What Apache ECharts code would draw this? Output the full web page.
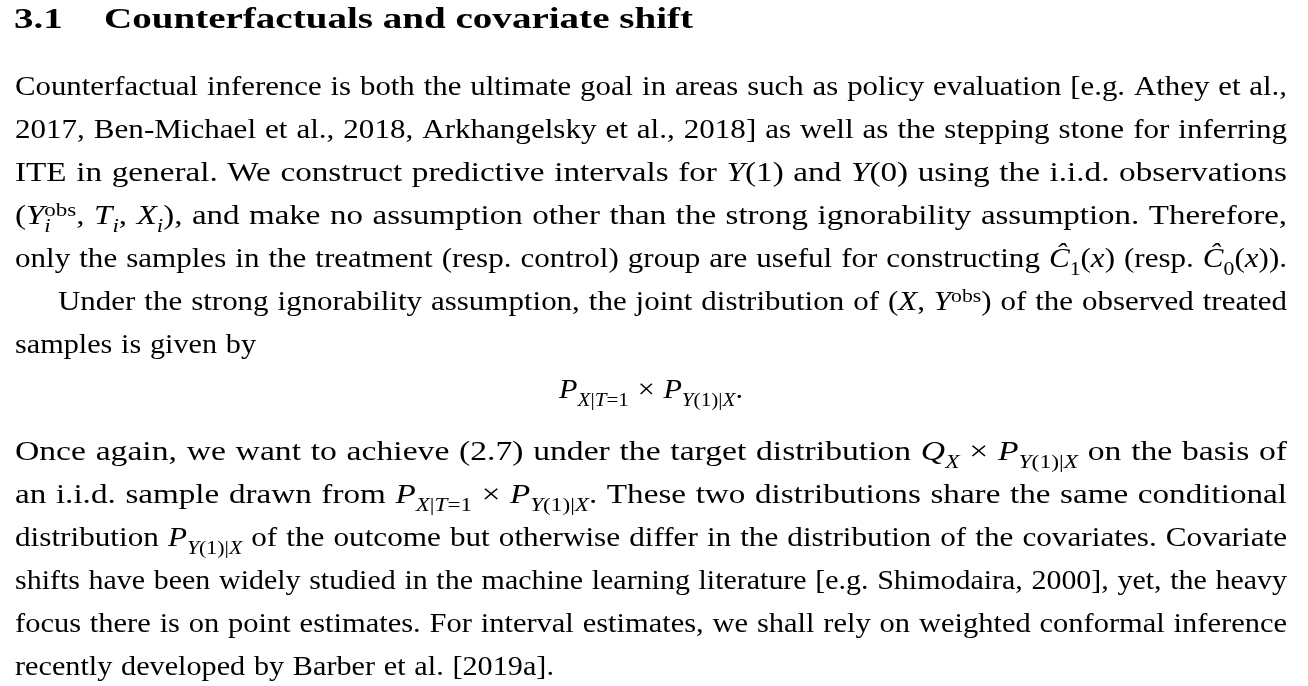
<html lang="en">
<head>
<meta charset="UTF-8">
<title>text</title>
<script src="https://cdn.jsdelivr.net/npm/echarts@6/dist/echarts.min.js"></script>
<style>html,body{margin:0;background:#fff}</style>
</head>
<body>
<div id="main" style="width:1308px;height:686px;"></div>
<script>
// $..$ = italic, _{..} = subscript, ^{..} = superscript
var headingNum = '3.1';
var headingText = 'Counterfactuals and covariate shift';
var lines = [
  'Counterfactual inference is both the ultimate goal in areas such as policy evaluation [e.g. Athey et al.,',
  '2017, Ben-Michael et al., 2018, Arkhangelsky et al., 2018] as well as the stepping stone for inferring',
  'ITE in general.  We construct predictive intervals for $Y$(1) and $Y$(0) using the i.i.d. observations',
  '($Y$^{obs}_{$i$}, $T$_{$i$}, $X$_{$i$}), and make no assumption other than the strong ignorability assumption.  Therefore,',
  'only the samples in the treatment (resp. control) group are useful for constructing $Ĉ$_{1}($x$) (resp. $Ĉ$_{0}($x$)).',
  'Under the strong ignorability assumption, the joint distribution of ($X$, $Y$^{obs}) of the observed treated',
  'samples is given by',
  '$P$_{$X$|$T$=1} × $P$_{$Y$(1)|$X$}.',
  'Once again, we want to achieve (2.7) under the target distribution $Q$_{$X$} × $P$_{$Y$(1)|$X$} on the basis of',
  'an i.i.d. sample drawn from $P$_{$X$|$T$=1} × $P$_{$Y$(1)|$X$}.  These two distributions share the same conditional',
  'distribution $P$_{$Y$(1)|$X$} of the outcome but otherwise differ in the distribution of the covariates. Covariate',
  'shifts have been widely studied in the machine learning literature [e.g. Shimodaira, 2000], yet, the heavy',
  'focus there is on point estimates. For interval estimates, we shall rely on weighted conformal inference',
  'recently developed by Barber et al. [2019a].'
];
var lineMode = ['j','j','j','j','j','i','l','c','j','j','j','j','j','l'];
var baselines = [96,139,182,225,268,311,354,399,461,504,547,590,633,676];

var F = 26.5, LEFT = 15, RIGHT = 1287, FAM = "'Liberation Serif', serif";
var ctx = document.createElement('canvas').getContext('2d');
function fontOf(s) { return (s.italic ? 'italic ' : '') + (s.pos ? F * 0.7 : F) + 'px ' + FAM; }
function measure(s) { ctx.font = fontOf(s); return ctx.measureText(s.text).width; }

function parse(line) {
  var segs = [], italic = false, pos = 0, buf = '';
  function flush() { if (buf) segs.push({text: buf, italic: italic, pos: pos}); buf = ''; }
  for (var i = 0; i < line.length; i++) {
    var c = line[i];
    if (c === '$') { flush(); italic = !italic; }
    else if ((c === '_' || c === '^') && line[i + 1] === '{') { flush(); pos = c === '_' ? 1 : -1; i++; }
    else if (c === '}' && pos) { flush(); pos = 0; }
    else buf += c;
  }
  flush();
  var words = [[]];
  segs.forEach(function (s) {
    var parts = s.text.split(/ +/);
    parts.forEach(function (p, k) {
      if (k > 0) words.push([]);
      if (p) words[words.length - 1].push({text: p, italic: s.italic, pos: s.pos});
    });
  });
  return words.filter(function (w) { return w.length; });
}

function wordWidth(w) {
  var x = 0, supStart = null, supEnd = 0;
  w.forEach(function (s) {
    if (s.pos === 1 && supStart !== null) { s.dx = supStart; x = supStart; }
    else s.dx = x;
    var wd = measure(s);
    if (s.pos === -1) { supStart = x; }
    x += wd;
    if (s.pos === -1) supEnd = x; else if (s.pos === 1 && supStart !== null) { x = Math.max(x, supEnd); supStart = null; }
    else supStart = null;
  });
  return x;
}

var elements = [];
function addSeg(s, x, base, sc) {
  var shift = s.pos === 1 ? F * 0.22 : s.pos === -1 ? -F * 0.38 : 0;
  elements.push({type: 'text', x: x, y: base + shift, scaleX: sc,
    style: {text: s.text, font: fontOf(s), fill: '#000', verticalAlign: 'bottom', align: 'left'}});
}

// heading
var HF = 'bold 30px ' + FAM;
ctx.font = HF;
var hs = 589 / ctx.measureText(headingText).width;
elements.push({type: 'text', x: 14, y: 35, scaleX: hs, style: {text: headingNum, font: HF, fill: '#000', verticalAlign: 'bottom'}});
elements.push({type: 'text', x: 104, y: 35, scaleX: hs, style: {text: headingText, font: HF, fill: '#000', verticalAlign: 'bottom'}});

var space = F * 0.33;
var SX = 1.14;
lines.forEach(function (line, li) {
  var words = parse(line);
  var widths = words.map(function (w) { return wordWidth(w) * SX; });
  var total = widths.reduce(function (a, b) { return a + b; }, 0);
  var mode = lineMode[li], x0 = mode === 'i' ? 58 : LEFT, gap = space, sc = SX;
  if (mode === 'j' || mode === 'i') {
    var natural = total + space * (words.length - 1);
    sc = SX * (RIGHT - x0) / natural;
    widths = widths.map(function (v) { return v * sc / SX; });
    total = total * sc / SX;
    gap = (RIGHT - x0 - total) / (words.length - 1);
  }
  if (mode === 'c') x0 = 651 - (total + space * (words.length - 1)) / 2;
  var x = x0, base = baselines[li] + F * 0.22;
  words.forEach(function (w, k) {
    w.forEach(function (s) { addSeg(s, x + s.dx * sc, base, sc); });
    x += widths[k] + gap;
  });
});

var chart = echarts.init(document.getElementById('main'));
chart.setOption({backgroundColor: '#fff', graphic: {elements: elements}});
</script>
</body>
</html>
